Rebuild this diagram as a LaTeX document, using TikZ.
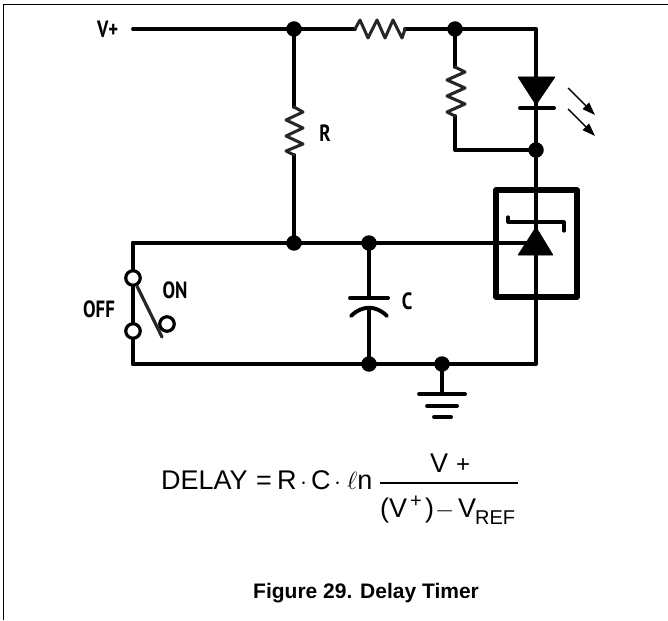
\documentclass[tikz,border=0pt]{standalone}
\usepackage{fontspec}
\setmainfont{Liberation Sans}
\newfontfamily\schemfont{PT Sans}
\usetikzlibrary{arrows.meta}
\tikzset{
  wire/.style={line width=3.9pt,line cap=round,line join=round,black},
  rwire/.style={line width=3pt,line join=round,line cap=round,black!85},
  thinline/.style={line width=1.4pt,black},
  sdot/.style={circle,fill=black,inner sep=0pt,minimum size=15.5pt},
  term/.style={circle,draw=black,line width=3.2pt,fill=white,inner sep=0pt,minimum size=14.5pt},
  solid tri/.style={fill=black,draw=black,line width=.5pt,line join=round},
  lbl/.style={font=\schemfont\bfseries\fontsize{23.5}{24}\selectfont,inner sep=0pt,xscale=.8,transform shape},
  eq/.style={font=\fontsize{27}{27}\selectfont,inner sep=0pt,anchor=base west},
  eqs/.style={font=\fontsize{20}{20}\selectfont,inner sep=0pt,anchor=base west},
  frameline/.style={line width=1.4pt,black},
}
\begin{document}
\begin{tikzpicture}[x=1pt,y=-1pt]
\useasboundingbox (0,0) rectangle (668,620);
% page frame
\coordinate (fa) at (3.5,620); \coordinate (fb) at (3.5,4.5); \coordinate (fc) at (668,4.5);
\draw[frameline] (fa) -- (fb) -- (fc);
% coordinates
\coordinate (vp) at (133,29);
\coordinate (r1a) at (355,29); \coordinate (r1b) at (405,29);
\coordinate (tr) at (536,29);
\coordinate (r2a) at (294,107); \coordinate (r2b) at (294,155);
\coordinate (r3a) at (455,67); \coordinate (r3b) at (455,116);
\coordinate (rb) at (455,150);
\coordinate (tl) at (133,243);
\coordinate (bl) at (133,364);
\coordinate (br) at (536,364);
\coordinate (ctop) at (369,298); \coordinate (cbot) at (369,309);
\coordinate (gnd) at (442,394);
\coordinate (ledtip) at (536,105);
% dots
\node[sdot] (d1) at (294,29) {};
\node[sdot] (d2) at (455,29) {};
\node[sdot] (d3) at (536,150) {};
\node[sdot] (d4) at (294,243) {};
\node[sdot] (d5) at (369,243) {};
\node[sdot] (d6) at (369,364) {};
\node[sdot] (d7) at (442,364) {};
% wires
\draw[wire] (vp) -- (d1.center) -- (r1a);
\draw[wire] (r1b) -- (d2.center) -- (tr) -- (ledtip);
\draw[wire] (d1.center) -- (r2a);
\draw[wire] (r2b) -- (d4.center);
\draw[wire] (d2.center) -- (r3a);
\draw[wire] (r3b) -- (rb) -- (d3.center);
\draw[wire] (ledtip) -- (d3.center) -- (br) -- (bl) -- (tl) -- (536,243);
\draw[wire] (d5.center) -- (ctop);
\draw[wire] (cbot) -- (d6.center);
\draw[wire] (d7.center) -- (gnd);
% resistors
\draw[rwire] (r1a) -- (360,20) -- (368,38) -- (377,20) -- (385,38) -- (393,20) -- (402,38) -- (r1b);
\draw[rwire] (r2a) -- (303,112) -- (286,120) -- (303,128) -- (286,136) -- (303,144) -- (286,151) -- (r2b);
\draw[rwire] (r3a) -- (465,72) -- (447,80) -- (465,88) -- (447,96) -- (465,104) -- (447,112) -- (r3b);
% LED
\draw[solid tri] (518,77) -- (555,77) -- (536,105) -- cycle;
\draw[wire] (520,108) -- (554,108);
\coordinate (a1s) at (568,88); \coordinate (a1e) at (595,115);
\coordinate (a2s) at (568,109); \coordinate (a2e) at (595,136);
\draw[thinline,-{Triangle[length=13pt,width=9pt]}] (a1s) -- (a1e);
\draw[thinline,-{Triangle[length=13pt,width=9pt]}] (a2s) -- (a2e);
% regulator
\draw[line width=5.2pt,line join=round] (496,190) rectangle (577,297);
\draw[line width=3.2pt,line cap=round,line join=round] (508,217) -- (508,222) -- (564,222) -- (564,231);
\draw[solid tri] (536,227) -- (553,255) -- (518,255) -- cycle;
% capacitor
\draw[wire] (350,298) -- (388,298);
\draw[wire] (351,316) .. controls (362,305) and (376,305) .. (387,316);
% ground
\draw[wire] (419,394) -- (465,394);
\draw[wire] (427,406) -- (457,406);
\draw[wire] (434,417) -- (451,417);
% switch
\node[term] (s1) at (133,278) {};
\node[term] (s2) at (133,331) {};
\node[term] (s3) at (167,324) {};
\draw[wire] (tl) -- (s1);
\draw[wire] (s2) -- (bl);
\draw[rwire,line width=3.2pt] (s1) -- (162,337);
% labels
\node[lbl,anchor=west] (lvp) at (97,29) {V+};
\node[lbl] (lr) at (325,133) {R};
\node[lbl] (lc) at (407,301) {C};
\node[lbl] (lon) at (175,290) {ON};
\node[lbl] (loff) at (99,309) {OFF};
% formula
\node[eq] (e1) at (161,489) {DELAY};
\node[eq] (e2) at (256,489) {=};
\node[eq] (e3) at (277,489) {R};
\node[eq] (e4) at (300,489) {$\cdot$};
\node[eq] (e5) at (311,489) {C};
\node[eq] (e6) at (334,489) {$\cdot$};
\node[eq] (e7) at (347,489) {$\ell$n};
\coordinate (fl) at (380,483); \coordinate (fr) at (518,483);
\draw[line width=1.4pt] (fl) -- (fr);
\node[eq] (n1) at (430,472) {V};
\node[eq,font=\fontsize{24}{24}\selectfont] (n2) at (456,472) {+};
\node[eq] (d1t) at (380,517) {(V};
\node[eqs] (d2t) at (410,507) {+};
\node[eq] (d3t) at (425,517) {)};
\node[eq] (d4t) at (435,517) {$-$};
\node[eq] (d5t) at (458,517) {V};
\node[eqs] (d6t) at (475,524) {REF};
\node[inner sep=0pt,anchor=base west,font=\bfseries\fontsize{21}{21}\selectfont] (cap) at (253,598) {Figure 29. Delay Timer};
\end{tikzpicture}
\end{document}
